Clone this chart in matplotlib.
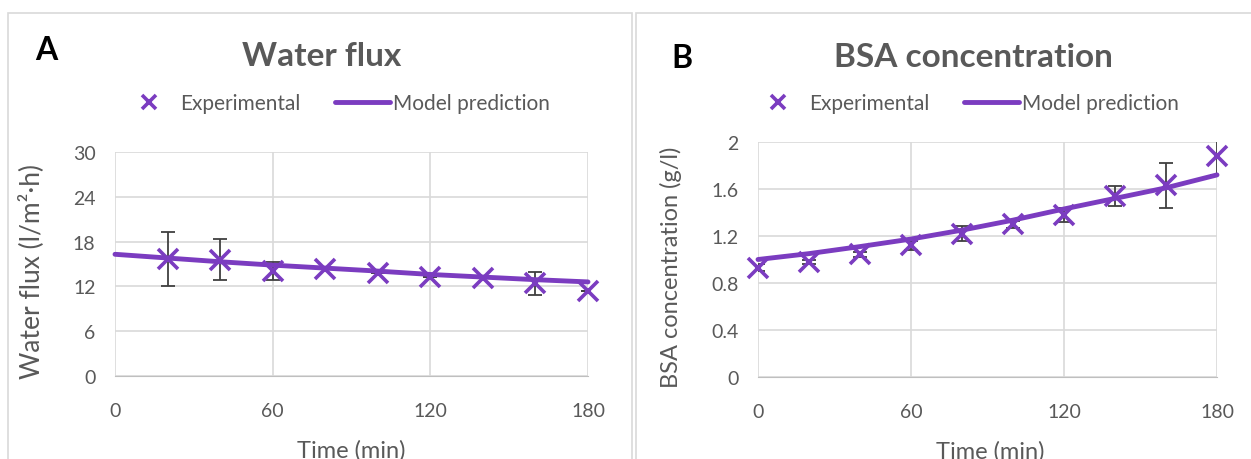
import numpy as np
import matplotlib.pyplot as plt
from matplotlib.patches import Rectangle
from matplotlib.lines import Line2D

plt.rcParams['font.family'] = ['Lato', 'DejaVu Sans']

# panel A: water flux
t_exp_a = [20, 40, 60, 80, 100, 120, 140, 160, 180]
flux_exp = [15.7, 15.6, 14.05, 14.3, 13.75, 13.3, 13.1, 12.4, 11.4]
flux_err = [3.6, 2.7, 1.2, 0.0, 0.0, 0.0, 0.0, 1.5, 0.0]
t_model = [0, 20, 40, 60, 80, 100, 120, 140, 160, 180]
flux_model = [16.3, 15.8, 15.3, 14.85, 14.45, 14.05, 13.6, 13.25, 12.9, 12.6]

# panel B: BSA concentration
t_exp_b = [0, 20, 40, 60, 80, 100, 120, 140, 160, 180]
bsa_exp = [0.93, 0.98, 1.045, 1.12, 1.22, 1.30, 1.38, 1.54, 1.63, 1.88]
bsa_err = [0.03, 0.02, 0.02, 0.04, 0.065, 0.03, 0.06, 0.085, 0.19, 0.16]
bsa_model = [1.0, 1.05, 1.11, 1.174, 1.25, 1.335, 1.43, 1.52, 1.61, 1.72]

purple = '#7B3CC0'
gray_txt = '#595959'
grid_c = '#D9D9D9'

W, H = 1251, 460
fig = plt.figure(figsize=(W / 100, H / 100), dpi=100)

def px(x0, y0, x1, y1):
    # pixel box -> figure fraction [left, bottom, width, height]
    return [x0 / W, 1 - y1 / H, (x1 - x0) / W, (y1 - y0) / H]

# panel frames
for x0, x1 in [(8, 632), (636, 1260)]:
    fig.patches.append(Rectangle((x0 / W, -0.1), (x1 - x0) / W, 1.1 - 14 / H,
                                 transform=fig.transFigure, fill=False,
                                 edgecolor=grid_c, lw=1.2))

axA = fig.add_axes(px(115, 153, 588, 377))
axB = fig.add_axes(px(758, 143, 1217, 378))

def style(ax, yticks, ylim):
    ax.set_xlim(0, 180)
    ax.set_ylim(*ylim)
    ax.set_xticks([0, 60, 120, 180])
    ax.set_yticks(yticks)
    ax.grid(True, color=grid_c, lw=1.2)
    ax.set_axisbelow(True)
    for s in ['top', 'right', 'left']:
        ax.spines[s].set_visible(False)
    ax.spines['bottom'].set_color('#BFBFBF')
    ax.tick_params(length=0, labelsize=14, colors=gray_txt)
    ax.tick_params(axis='x', pad=19)
    ax.tick_params(axis='y', pad=14)

style(axA, [0, 6, 12, 18, 24, 30], (0, 30))
style(axB, [0, 0.4, 0.8, 1.2, 1.6, 2.0], (0, 2))
axB.set_yticklabels(['0', '0.4', '0.8', '1.2', '1.6', '2'])

for ax, tx, ye, ee, ym in [(axA, t_exp_a, flux_exp, flux_err, flux_model),
                           (axB, t_exp_b, bsa_exp, bsa_err, bsa_model)]:
    ax.errorbar(tx, ye, yerr=ee, fmt='none', ecolor='#404040', elinewidth=1.3,
                capsize=5, capthick=1.3, zorder=3, clip_on=True)
    ax.plot(t_model, ym, color=purple, lw=3.5, zorder=4, clip_on=False,
            solid_capstyle='round')
    ax.plot(tx, ye, ls='none', marker='x', ms=15, mew=2.6, color=purple,
            zorder=5, clip_on=False)

axA.set_xlabel('Time (min)', fontsize=17, color=gray_txt)
axA.xaxis.set_label_coords(0.5, -0.28)
axA.set_ylabel('Water flux (l/m²·h)', fontsize=19, color=gray_txt)
axA.yaxis.set_label_coords(-0.15, 0.47)

axB.set_xlabel('Time (min)', fontsize=17, color=gray_txt)
axB.xaxis.set_label_coords(0.505, -0.27)
axB.set_ylabel('BSA concentration (g/l)', fontsize=17, color=gray_txt)
axB.yaxis.set_label_coords(-0.165, 0.47)

fig.text(322 / W, 1 - 57 / H, 'Water flux', fontsize=24, fontweight='bold',
         color=gray_txt, ha='center', va='center')
fig.text(973 / W, 1 - 58 / H, 'BSA concentration', fontsize=24, fontweight='bold',
         color=gray_txt, ha='center', va='center')
fig.text(35 / W, 1 - 50 / H, 'A', fontsize=23, fontweight='bold',
         color='black', ha='left', va='center')
fig.text(671 / W, 1 - 59 / H, 'B', fontsize=23, fontweight='bold',
         color='black', ha='left', va='center')

handles = [Line2D([], [], ls='none', marker='x', ms=10, mew=2.6, color=purple),
           Line2D([], [], color=purple, lw=3.5, solid_capstyle='round')]
for cx in [336 / W, 965 / W]:
    fig.legend(handles, ['Experimental', 'Model prediction'], loc='center',
               bbox_to_anchor=(cx, 1 - 104 / H), ncol=2, frameon=False,
               fontsize=15, labelcolor=gray_txt, handlelength=2.6,
               handletextpad=0.15, columnspacing=1.7)

fig.savefig('out.png', dpi=100)
